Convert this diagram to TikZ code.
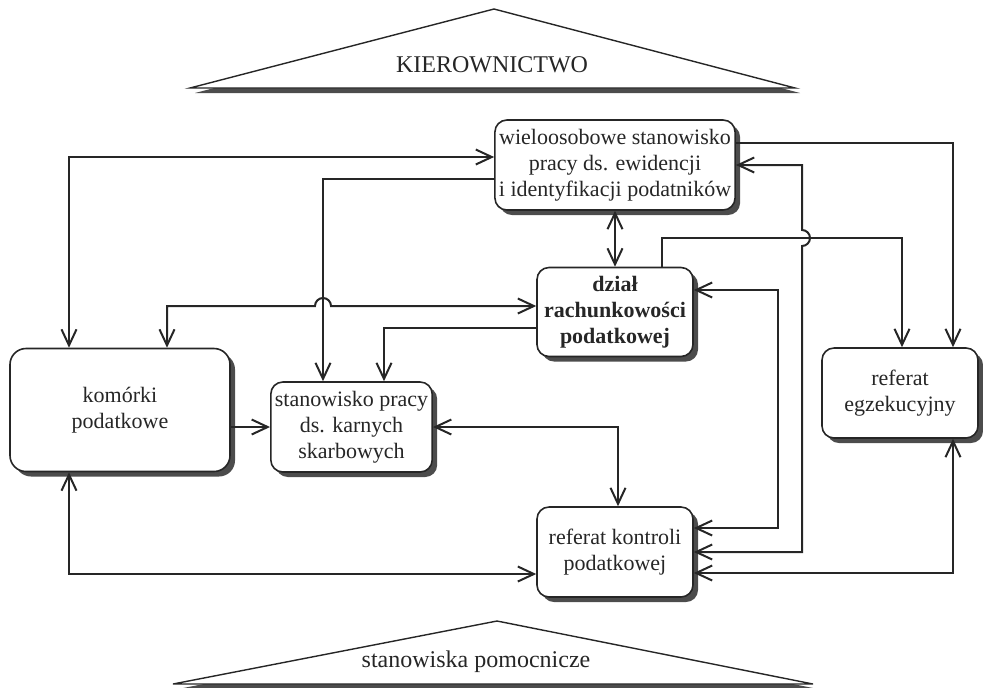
\documentclass[tikz,border=0pt]{standalone}
\usepackage{fontspec}
\setmainfont{Liberation Serif}
\usetikzlibrary{arrows.meta, shadows}

\begin{document}
\begin{tikzpicture}[
		x=0.5pt, y=-0.5pt,
		>={Straight Barb[length=8pt, width=7.5pt]},
		shade/.style={drop shadow={shadow xshift=2.5pt, shadow yshift=-2.5pt, fill=black!70, opacity=1}},
		box/.style={rectangle, rounded corners=6pt, draw=black!85, line width=0.8pt, fill=white, shade,
			align=center, inner sep=2pt, text=black!85, font=\fontsize{11}{13}\selectfont},
		boldbox/.style={box, font=\fontsize{11}{13}\selectfont\bfseries},
		roof/.style={draw=black!85, line width=0.7pt, fill=white, shade},
		label/.style={text=black!85, font=\fontsize{12}{14}\selectfont},
		arrow/.style={->, line width=1pt, draw=black!85},
		twoway/.style={<->, line width=1pt, draw=black!85},
		]
		\useasboundingbox (0,0) rectangle (983,687);

		% Roofs
		\filldraw[roof] (190,88) -- (494,9) -- (795,88) -- cycle;
		\node[label] (kier) at (492,65) {KIEROWNICTWO};
		\filldraw[roof] (173,684) -- (497,621) -- (813,684) -- cycle;
		\node[label] (pomoc) at (476,662) {stanowiska pomocnicze};

		% Blocks
		\node[box, minimum width=117pt, minimum height=45pt] (wiel) at (615,165) {wieloosobowe stanowisko\\pracy ds. ewidencji\\i identyfikacji podatników};
		\node[boldbox, minimum width=78pt, minimum height=44.5pt] (dzial) at (615,312) {dział\\rachunkowości\\podatkowej};
		\node[box, rounded corners=8pt, minimum width=110pt, minimum height=61.5pt] (komorki) at (120,410) {komórki\\podatkowe};
		\node[box, minimum width=78.5pt, minimum height=45pt] (karne) at (351.5,427) {stanowisko pracy\\ds. karnych\\skarbowych};
		\node[box, minimum width=78pt, minimum height=45pt] (kontrola) at (615,552) {referat kontroli\\podatkowej};
		\node[box, minimum width=78pt, minimum height=45pt] (egzek) at (900,393) {referat\\egzekucyjny};

		% Arrows
		\draw[twoway] (komorki.north -| 69,0) |- (wiel.west |- 0,157);
		\draw[arrow] (wiel.west |- 0,179) -| (karne.north -| 323,0);
		\draw[twoway] (komorki.north -| 167,0) |- (315,306) arc[start angle=180, end angle=0, radius=4pt] -- (dzial.west |- 0,306);
		\draw[arrow] (dzial.west |- 0,328) -| (karne.north -| 384,0);
		\draw[twoway] (wiel.south) -- (dzial.north);
		\draw[arrow] (wiel.east |- 0,143) -| (egzek.north -| 953,0);
		\draw[arrow] (dzial.north -| 662,0) -- (662,238) -| (egzek.north -| 902,0);
		\draw[twoway] (wiel.east |- 0,165) -| (802,230) arc[start angle=90, end angle=-90, radius=4pt] |- (kontrola.east |- 0,552);
		\draw[twoway] (dzial.east |- 0,290) -| (778,528) -- (kontrola.east |- 0,528);
		\draw[twoway] (egzek.south -| 953,0) |- (kontrola.east |- 0,573);
		\draw[twoway] (komorki.south -| 69,0) |- (kontrola.west |- 0,574);
		\draw[arrow] (komorki.east |- 0,427) -- (karne.west |- 0,427);
		\draw[twoway] (karne.east |- 0,427) -| (kontrola.north -| 618,0);
	\end{tikzpicture}
\end{document}
